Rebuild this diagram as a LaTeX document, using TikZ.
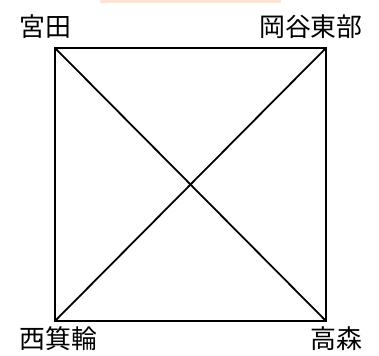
\documentclass[tikz,border=0pt]{standalone}
\usepackage{fontspec}
\newfontfamily\jpfont{Noto Sans CJK JP}
\definecolor{barpeach}{HTML}{FCE4D6}

\begin{document}
\begin{tikzpicture}[x=1bp, y=-1bp,
  station/.style={font=\jpfont\fontsize{26}{30}\selectfont, inner sep=0pt},
  edge/.style={line width=2.2bp},
  cross/.style={line width=1.8bp}]
\useasboundingbox (0,0) rectangle (379,356);
% Top bar
\fill[barpeach] (100,0) rectangle (281,3);
% Corners of the square
\coordinate (nw) at (55,48);
\coordinate (ne) at (326,48);
\coordinate (sw) at (55,321);
\coordinate (se) at (326,321);
% Station names
\node[station, anchor=west] (miyata) at (19,27) {宮田};
\node[station, anchor=east] (okaya) at (363,27) {岡谷東部};
\node[station, anchor=west] (nishi) at (19,339) {西箕輪};
\node[station, anchor=east] (takamori) at (363,339) {高森};
% Square and diagonals
\draw[edge] (nw) -- (ne) -- (se) -- (sw) -- cycle;
\draw[cross] (nw) -- (se);
\draw[cross] (ne) -- (sw);
\end{tikzpicture}
\end{document}
